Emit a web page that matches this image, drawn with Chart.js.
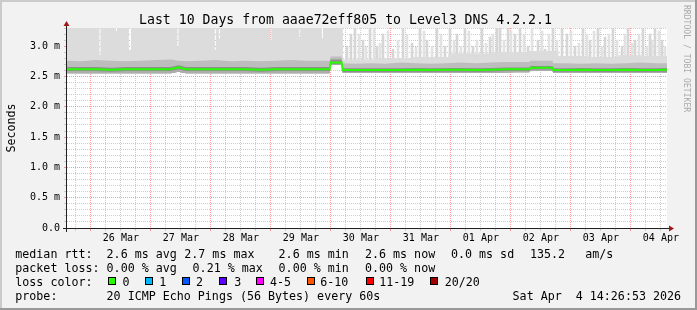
<!DOCTYPE html>
<html><head><meta charset="utf-8">
<script src="https://cdn.jsdelivr.net/npm/chart.js@4.4.1/dist/chart.umd.min.js"></script>
<style>
html,body{margin:0;padding:0;background:#f2f2f2;}
#wrap{position:relative;width:697px;height:310px;background:#f2f2f2;overflow:hidden;}
#c{position:absolute;left:0;top:0;}
#ov{position:absolute;left:0;top:0;pointer-events:none;}
#ov text{font-family:'DejaVu Sans Mono',monospace;fill:#000;white-space:pre;}
</style></head><body>
<div id="wrap">
<canvas id="c" width="697" height="310"></canvas>
<svg id="ov" width="697" height="310" xmlns="http://www.w3.org/2000/svg">
  <rect x="0" y="0" width="697" height="2" fill="#cbcbcb"/>
  <rect x="0" y="0" width="2" height="310" fill="#cbcbcb"/>
  <rect x="0" y="308" width="697" height="2" fill="#999999"/>
  <rect x="695" y="0" width="2" height="310" fill="#999999"/>
  <text x="139" y="24" style="font-size:13.2px">Last 10 Days from aaae72eff805 to Level3 DNS 4.2.2.1</text>
  <text transform="translate(15,128) rotate(-90)" text-anchor="middle" style="font-size:11.66px">Seconds</text>
  <text transform="translate(684,5) rotate(90)" style="font-size:8.1px;fill:#aaaaaa">RRDTOOL / TOBI OETIKER</text>
  <g style="font-size:11.66px">
    <text x="15.3" y="258">median rtt:</text>
    <text x="106.6" y="258">2.6 ms avg</text>
    <text x="184.3" y="258">2.7 ms max</text>
    <text x="278.6" y="258">2.6 ms min</text>
    <text x="365" y="258">2.6 ms now</text>
    <text x="451" y="258">0.0 ms sd</text>
    <text x="530" y="258">135.2</text>
    <text x="585.3" y="258">am/s</text>
    <text x="15.3" y="272.3">packet loss:</text>
    <text x="106.6" y="272.3">0.00 % avg</text>
    <text x="192.6" y="272.3">0.21 % max</text>
    <text x="278.6" y="272.3">0.00 % min</text>
    <text x="365" y="272.3">0.00 % now</text>
    <text x="15.3" y="286">loss color:</text>
    <text x="122.6" y="286">0</text>
    <text x="159.3" y="286">1</text>
    <text x="196" y="286">2</text>
    <text x="234.3" y="286">3</text>
    <text x="270" y="286">4-5</text>
    <text x="320.3" y="286">6-10</text>
    <text x="379.3" y="286">11-19</text>
    <text x="444.8" y="286">20/20</text>
    <text x="15.3" y="300">probe:</text>
    <text x="106.6" y="300">20 ICMP Echo Pings (56 Bytes) every 60s</text>
    <text x="512.6" y="300">Sat Apr  4 14:26:53 2026</text>
  </g>
  <g stroke="#000" stroke-width="1">
    <rect x="108.5" y="277.5" width="7" height="7" fill="#26ff00"/>
    <rect x="145.5" y="277.5" width="7" height="7" fill="#00b8ff"/>
    <rect x="182.5" y="277.5" width="7" height="7" fill="#0059ff"/>
    <rect x="219.5" y="277.5" width="7" height="7" fill="#5e00ff"/>
    <rect x="256.5" y="277.5" width="7" height="7" fill="#ff00ff"/>
    <rect x="307.5" y="277.5" width="7" height="7" fill="#ff5500"/>
    <rect x="366.5" y="277.5" width="7" height="7" fill="#ff0000"/>
    <rect x="430.5" y="277.5" width="7" height="7" fill="#a10000"/>
  </g>
</svg>
</div>
<script>
// ---- data (hours counted from 25 Mar 00:00) ----
const dayLabels = ['25 Mar','26 Mar','27 Mar','28 Mar','29 Mar','30 Mar','31 Mar','01 Apr','02 Apr','03 Apr','04 Apr'];
const X_MIN = 14.45, X_MAX = 254.45, Y_MAX = 3.3;

const bandHours = [14.4,20,26,32,38,44,50,56,59,62,68,74,80,86,92,98,104,110,116,119.5,119.9,124.3,124.7,
  130,136,142,148,154,160,166,172,178,184,190,194,199.4,199.8,208.6,209,214,220,226,232,238,244,250,254.5];

const lowEdge = [2.555,2.555,2.555,2.555,2.555,2.555,2.555,2.555,2.58,2.555,2.555,2.555,2.555,2.555,2.555,2.555,2.555,2.555,2.555,2.555,
  2.69,2.69,2.56,
  2.56,2.56,2.56,2.56,2.56,2.56,2.56,2.56,2.56,2.56,2.565,2.57,2.57,2.59,2.59,2.56,
  2.56,2.56,2.56,2.56,2.56,2.56,2.56,2.56];

const lowMid = [2.59,2.59,2.59,2.58,2.59,2.59,2.59,2.59,2.62,2.59,2.59,2.59,2.59,2.59,2.58,2.59,2.59,2.59,2.59,2.59,
  2.70,2.70,2.575,
  2.575,2.575,2.575,2.575,2.58,2.575,2.58,2.58,2.575,2.58,2.59,2.59,2.59,2.615,2.615,2.577,
  2.577,2.58,2.575,2.575,2.58,2.575,2.577,2.58];

const median = [2.62,2.62,2.62,2.61,2.62,2.62,2.62,2.62,2.65,2.62,2.62,2.62,2.62,2.62,2.61,2.62,2.62,2.62,2.62,2.62,
  2.73,2.73,2.605,
  2.605,2.605,2.605,2.605,2.61,2.605,2.61,2.61,2.605,2.61,2.62,2.62,2.62,2.645,2.645,2.607,
  2.607,2.61,2.605,2.605,2.61,2.605,2.607,2.61];

const darkTop = [2.655,2.655,2.655,2.645,2.655,2.655,2.655,2.655,2.685,2.655,2.655,2.655,2.655,2.655,2.645,2.655,2.655,2.655,2.655,2.655,
  2.78,2.78,2.635,
  2.635,2.635,2.635,2.635,2.64,2.635,2.64,2.64,2.635,2.64,2.65,2.65,2.65,2.675,2.675,2.637,
  2.637,2.64,2.635,2.635,2.64,2.635,2.637,2.64];

const midTop = [2.76,2.75,2.77,2.76,2.75,2.76,2.77,2.78,2.76,2.75,2.76,2.77,2.75,2.76,2.75,2.76,2.77,2.76,2.76,2.76,
  2.83,2.83,2.72,
  2.71,2.72,2.71,2.73,2.72,2.71,2.72,2.73,2.72,2.73,2.74,2.74,2.74,2.76,2.76,2.72,
  2.72,2.71,2.72,2.71,2.72,2.73,2.72,2.72];

const lightHours = [14.4,27.4,27.8,34.0,34.4,39.2,40.0,58.6,59.0,73.6,74.0,75.2,75.6,95.8,96.2,107.4,107.8,116.4,116.8,
  124.8,138,152,167,185,199,211,223,235,245,254.5];
const lightTops = [3.3,2.86,3.3,3.25,3.3,2.94,3.3,3.0,3.3,2.94,3.3,3.13,3.3,3.1,3.3,3.15,3.3,3.13,3.3,
  2.78,2.8,2.82,2.88,2.9,2.92,2.84,2.82,2.85,2.84,2.84];

const spikeHours = [126.45,128.05,129.65,132.85,135.65,138.45,140.85,144.85,148.85,152.45,155.65,158.45,162.45,165.65,
  167.65,170.45,173.65,176.85,180.45,183.65,186.45,187.65,190.85,193.65,195.65,198.85,202.85,205.65,208.85,212.45,
  214.45,217.65,220.85,223.65,226.85,229.65,232.85,236.45,238.85,241.65,244.85,247.65,249.65,252.45];
const spikeTops = [3.0,3.2,3.3,3.1,3.3,3.0,3.2,2.95,3.3,3.05,3.3,3.1,3.3,3.0,
  3.3,3.2,3.3,3.0,3.3,3.15,3.3,3.3,3.3,3.2,3.3,3.0,3.1,2.95,3.3,3.3,
  3.2,3.0,3.3,3.1,3.3,3.15,3.3,3.0,3.3,3.1,3.3,3.2,3.3,3.1];

const spike2Hours = [131.25,134.05,137.25,139.65,142.85,146.85,150.45,154.05,157.25,160.45,164.05,169.25,172.05,175.25,
  178.45,182.05,184.85,189.25,192.05,197.25,200.45,204.45,207.25,210.45,216.05,219.25,222.45,225.25,228.45,231.25,
  234.45,237.65,240.45,243.25,246.45,248.45,251.25,253.65];
const spike2Tops = [3.2,2.98,3.3,3.05,3.25,3.1,3.2,2.98,3.25,3.0,3.2,3.1,3.0,3.25,
  3.1,3.05,3.2,3.1,3.25,3.2,3.3,3.25,3.2,3.1,3.25,3.05,3.2,3.25,3.0,3.2,
  3.1,3.2,3.05,3.2,3.0,3.1,3.25,3.0];
const SPIKE_BASE = 2.72;

const lossColor0 = '#26ff00';

// ---- build ----
const pts = (xs, ys) => xs.map((x, i) => ({x: x, y: ys[i]}));
const band = (ys, color, order) => ({
  type: 'line', data: pts(bandHours, ys), fill: 0, backgroundColor: color,
  borderColor: 'rgba(0,0,0,0)', borderWidth: 1, pointRadius: 0, order: order
});
const spikes = (hs, tops, color, order) => ({
  type: 'bar', data: hs.map((h, i) => ({x: h, y: [SPIKE_BASE, tops[i]]})), backgroundColor: color,
  barThickness: 2, borderWidth: 0, grouped: false, order: order
});

const xTicks = []; for (let h = 18; h <= 252; h += 6) xTicks.push({value: h});
const yTicks = []; for (let i = 0; i <= 33; i++) yTicks.push({value: i / 10});

const MINOR = 'rgba(192,192,192,0.8)';
const MAJOR = 'rgba(255,128,128,0.8)';

const bgPlugin = {
  id: 'plotbg',
  beforeDraw(chart) {
    const {ctx, chartArea: a} = chart;
    ctx.save(); ctx.fillStyle = '#ffffff';
    ctx.fillRect(a.left, a.top, a.right - a.left, a.bottom - a.top);
    ctx.restore();
  }
};
const axisPlugin = {
  id: 'axes',
  afterDraw(chart) {
    const {ctx, chartArea: a} = chart;
    const L = a.left, R = a.right, T = a.top, B = a.bottom;
    ctx.save();
    ctx.strokeStyle = '#202020'; ctx.lineWidth = 1;
    ctx.beginPath();
    ctx.moveTo(L - 4, B + 0.5); ctx.lineTo(R + 4, B + 0.5);
    ctx.moveTo(L - 0.5, B + 4); ctx.lineTo(L - 0.5, T - 4);
    ctx.stroke();
    ctx.fillStyle = '#a01818';
    ctx.beginPath();
    ctx.moveTo(R + 2, B - 2.5); ctx.lineTo(R + 2, B + 3.5); ctx.lineTo(R + 7, B + 0.5); ctx.closePath(); ctx.fill();
    ctx.beginPath();
    ctx.moveTo(L - 3.5, T - 2); ctx.lineTo(L + 2.5, T - 2); ctx.lineTo(L - 0.5, T - 7); ctx.closePath(); ctx.fill();
    ctx.restore();
  }
};

new Chart(document.getElementById('c'), {
  type: 'line',
  data: {
    datasets: [
      {type: 'line', data: pts(bandHours, lowEdge), fill: false, borderColor: 'rgba(0,0,0,0)', borderWidth: 1, pointRadius: 0, order: 10},
      spikes(spikeHours, spikeTops, '#d6d6d6', 8),
      spikes(spike2Hours, spike2Tops, '#e2e2e2', 9),
      {type: 'line', data: pts(lightHours, lightTops), stepped: 'before', fill: 0, backgroundColor: '#dcdcdc',
        borderColor: 'rgba(0,0,0,0)', borderWidth: 1, pointRadius: 0, order: 7},
      band(midTop, '#bdbdbd', 6),
      band(darkTop, '#8e8e8e', 5),
      band(lowMid, '#adadad', 4),
      {type: 'line', data: pts(bandHours, median), fill: false, borderColor: lossColor0, borderWidth: 2,
        pointRadius: 0, tension: 0, order: 1}
    ]
  },
  options: {
    responsive: false, animation: false, devicePixelRatio: 1, events: [],
    layout: {padding: {top: 28, right: 30, left: 0, bottom: 0}},
    plugins: {legend: {display: false}, tooltip: {enabled: false}, title: {display: false}},
    scales: {
      x: {
        type: 'linear', min: X_MIN, max: X_MAX, z: 1, offset: false,
        afterBuildTicks: s => { s.ticks = xTicks.map(t => ({value: t.value})); },
        afterFit: s => { s.height = 82; },
        grid: {
          offset: false,
          color: c => (c.tick && c.tick.value % 24 === 0) ? MAJOR : MINOR,
          tickColor: c => (c.tick && c.tick.value % 24 === 0) ? MAJOR : MINOR,
          tickLength: 3, lineWidth: 1
        },
        border: {display: false, dash: [1, 1]},
        ticks: {
          autoSkip: false, maxRotation: 0, minRotation: 0, padding: 1, color: '#000',
          font: {family: 'DejaVu Sans Mono', size: 10},
          callback: v => (v % 24 === 12) ? dayLabels[Math.floor(v / 24)] : ''
        }
      },
      y: {
        type: 'linear', min: 0, max: Y_MAX, z: 1,
        afterBuildTicks: s => { s.ticks = yTicks.map(t => ({value: t.value})); },
        afterFit: s => { s.width = 67; },
        grid: {
          color: c => (c.tick && Math.round(c.tick.value * 10) % 5 === 0) ? MAJOR : MINOR,
          tickColor: c => (c.tick && Math.round(c.tick.value * 10) % 5 === 0) ? MAJOR : MINOR,
          tickLength: 3, lineWidth: 1
        },
        border: {display: false, dash: [1, 1]},
        ticks: {
          autoSkip: false, padding: 4, color: '#000',
          font: {family: 'DejaVu Sans Mono', size: 10},
          callback: v => { const k = Math.round(v * 10); if (k % 5) return ''; return k === 0 ? '0.0' : (k / 10).toFixed(1) + ' m'; }
        }
      }
    }
  },
  plugins: [bgPlugin, axisPlugin]
});
</script>
</body></html>
